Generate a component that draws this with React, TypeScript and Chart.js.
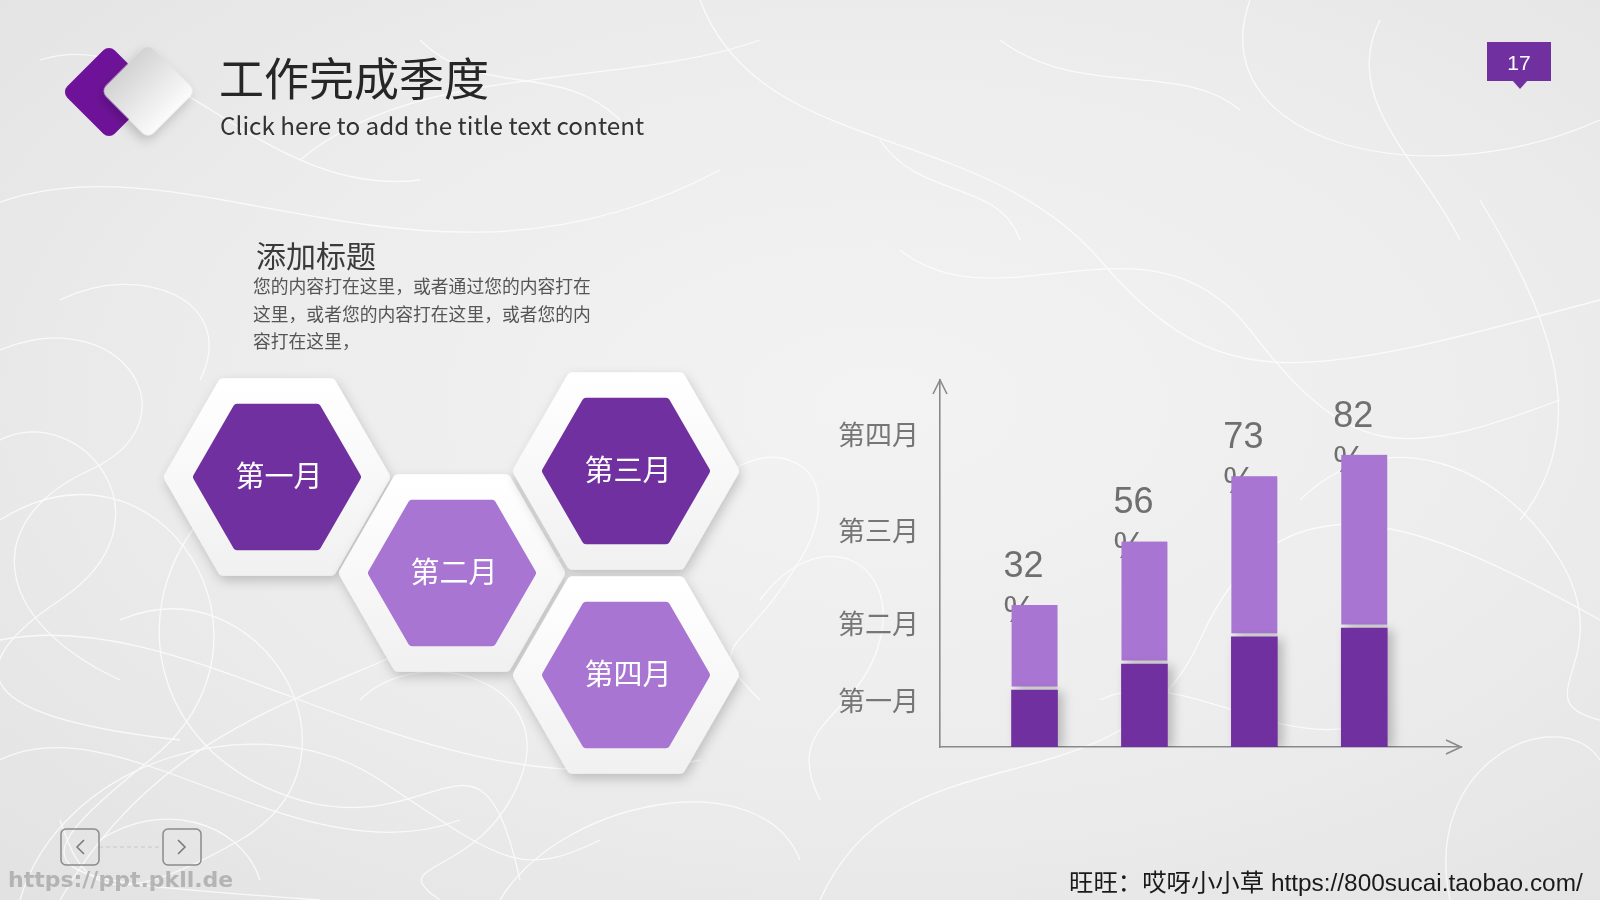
import React, { useEffect, useRef } from "react";
import { Chart, registerables } from "chart.js";

Chart.register(...registerables);

// ---- data ----
const monthLabels = ["第一月", "第二月", "第三月", "第四月"];
const barPositions = [1, 2, 3, 4];
const baseValues = [15.5, 22.6, 30.0, 32.4];
const topValues = [23.2, 33.4, 43.8, 47.2];
const valueLabels = ["32%", "56%", "73%", "82%"];
const yTickValues = [12.7, 33.7, 58.8, 85.0];
const yTickLabels = ["第一月", "第二月", "第三月", "第四月"];
const paragraphLines = [
  "您的内容打在这里，或者通过您的内容打在",
  "这里，或者您的内容打在这里，或者您的内",
  "容打在这里，",
];

const DARK = "#7030A0";
const LIGHT = "#A876D2";
const CJK = "'Noto Sans CJK SC', 'Noto Sans CJK TC', sans-serif";
const LATIN = "'Liberation Sans', Arial, 'Noto Sans CJK SC', sans-serif";

function hexPoints(cx: number, cy: number, r: number) {
  const pts: string[] = [];
  for (let k = 0; k < 6; k++) {
    const a = (Math.PI / 3) * k;
    pts.push(`${(cx + r * Math.cos(a)).toFixed(1)},${(cy + r * Math.sin(a)).toFixed(1)}`);
  }
  return pts.join(" ");
}

const hexes = [
  { cx: 277, cy: 477, dark: true, label: monthLabels[0] },
  { cx: 452, cy: 573, dark: false, label: monthLabels[1] },
  { cx: 626, cy: 471, dark: true, label: monthLabels[2] },
  { cx: 626, cy: 675, dark: false, label: monthLabels[3] },
];

const scribbles = [
  "M -20 210 C 180 120, 420 330, 720 170",
  "M 60 900 C 220 620, 520 720, 660 420",
  "M 0 520 C 160 420, 300 640, 150 760 S 40 880, 320 900",
  "M 700 0 C 760 160, 980 120, 1100 260 S 1300 380, 1600 300",
  "M 820 900 C 900 720, 1120 820, 1200 640 S 1420 520, 1600 620",
  "M 1250 0 C 1200 140, 1420 200, 1600 120",
  "M 300 160 C 420 60, 620 90, 760 40",
  "M 0 350 C 120 300, 200 420, 90 470 S -10 620, 120 680",
  "M 500 900 C 560 800, 760 760, 800 860",
  "M 1450 900 C 1420 760, 1560 700, 1600 760",
  "M 900 250 C 1000 330, 1150 200, 1250 330 S 1400 460, 1560 400",
  "M 120 620 C 260 560, 380 760, 240 840 S 80 880, 60 820",
  "M 1480 200 C 1540 300, 1600 420, 1520 520",
  "M 760 600 C 820 520, 900 560, 880 640 S 780 720, 820 800",
  "M 40 60 C 160 20, 260 200, 420 180",
  "M 1000 40 C 1080 100, 1180 60, 1240 110",
  "M 0 640 C 200 600, 420 820, 700 760",
  "M 20 900 C 60 760, 260 700, 380 780 S 520 880, 600 840",
  "M 0 760 C 120 700, 300 880, 460 820",
  "M 200 520 C 120 620, 160 760, 300 800 S 480 700, 520 880",
  "M 0 440 C 80 400, 180 520, 60 600 S 0 720, 180 740",
  "M 360 700 C 420 640, 560 680, 520 780 S 380 860, 440 900",
  "M 60 300 C 140 260, 240 300, 200 380",
  "M 700 500 C 760 420, 860 460, 800 560 S 700 640, 760 700",
  "M 1300 500 C 1380 420, 1500 460, 1560 560 S 1520 700, 1600 720",
  "M 1100 700 C 1180 660, 1280 760, 1380 720",
  "M 420 40 C 480 100, 560 60, 620 120",
  "M 1380 20 C 1340 100, 1420 160, 1460 240",
  "M 880 140 C 920 200, 1000 180, 1020 240",
  "M 100 840 C 160 800, 240 820, 260 880",
];

function BarChart() {
  const ref = useRef<HTMLCanvasElement>(null);
  useEffect(() => {
    if (!ref.current) return;
    const labelPlugin = {
      id: "pctLabels",
      beforeDatasetsDraw(chart: any) {
        const ctx = chart.ctx;
        const meta = chart.getDatasetMeta(1);
        ctx.save();
        ctx.fillStyle = "#6f6f6f";
        ctx.font = "36px 'Liberation Sans', Arial, sans-serif";
        ctx.textAlign = "left";
        ctx.textBaseline = "alphabetic";
        meta.data.forEach((bar: any, i: number) => {
          const { x, y, width } = bar.getProps(["x", "y", "width"], true);
          const left = x - width / 2 - 8;
          const txt = valueLabels[i];
          ctx.fillText(txt.replace("%", ""), left, y - 28);
          ctx.fillText("%", left, y + 17);
        });
        ctx.restore();
        ctx.save();
        ctx.shadowColor = "rgba(0,0,0,0.22)";
        ctx.shadowBlur = 10;
        ctx.shadowOffsetX = 5;
        ctx.shadowOffsetY = 2;
      },
      afterDatasetsDraw(chart: any) {
        chart.ctx.restore();
      },
      afterDraw(chart: any) {
        const { ctx, chartArea } = chart;
        ctx.save();
        ctx.strokeStyle = "#8a8a8a";
        ctx.lineWidth = 1.6;
        ctx.beginPath();
        ctx.moveTo(chartArea.left - 7, chartArea.top + 14);
        ctx.lineTo(chartArea.left, chartArea.top);
        ctx.lineTo(chartArea.left + 7, chartArea.top + 14);
        ctx.moveTo(chartArea.right - 15, chartArea.bottom - 7);
        ctx.lineTo(chartArea.right, chartArea.bottom);
        ctx.lineTo(chartArea.right - 15, chartArea.bottom + 7);
        ctx.stroke();
        ctx.restore();
      },
    };

    const chart = new Chart(ref.current, {
      type: "bar",
      data: {
        datasets: [
          {
            data: barPositions.map((x, i) => ({ x, y: baseValues[i] })),
            backgroundColor: DARK,
            borderWidth: 0,
            barThickness: 46,
          },
          {
            data: barPositions.map((x, i) => ({ x, y: topValues[i] })),
            backgroundColor: LIGHT,
            borderSkipped: false,
            borderWidth: { top: 0, left: 0, right: 0, bottom: 4 },
            borderColor: "#efedf1",
            barThickness: 46,
          },
        ],
      } as any,
      options: {
        animation: false,
        responsive: false,
        maintainAspectRatio: false,
        layout: { padding: { left: 0, top: 20, right: 39, bottom: 23 } },
        plugins: { legend: { display: false }, tooltip: { enabled: false } },
        scales: {
          x: {
            type: "linear",
            min: 0.14,
            max: 4.88,
            offset: false,
            stacked: true,
            grid: { display: false, drawTicks: false, offset: false },
            ticks: { display: false },
            border: { display: true, color: "#8a8a8a", width: 1.6 },
            afterFit: (s: any) => {
              s.height = 0;
              s.paddingLeft = 0;
              s.paddingRight = 0;
            },
          },
          y: {
            type: "linear",
            min: 0,
            max: 100,
            stacked: true,
            grid: { display: false, drawTicks: false },
            border: { display: true, color: "#8a8a8a", width: 1.6 },
            afterBuildTicks: (s: any) => {
              s.ticks = yTickValues.map((v) => ({ value: v }));
            },
            ticks: {
              padding: 21,
              color: "#767676",
              font: { family: CJK, size: 27 },
              callback: (_v: any, i: number) => yTickLabels[i],
            },
            afterFit: (s: any) => {
              s.width = 160;
              s.paddingTop = 0;
              s.paddingBottom = 0;
            },
          },
        } as any,
      },
      plugins: [labelPlugin],
    });
    return () => chart.destroy();
  }, []);
  return (
    <canvas
      ref={ref}
      width={720}
      height={410}
      style={{ position: "absolute", left: 780, top: 360, width: 720, height: 410 }}
    />
  );
}

export default function App() {
  return (
    <div
      style={{
        position: "fixed",
        left: 0,
        top: 0,
        width: 1600,
        height: 900,
        overflow: "hidden",
        background: "radial-gradient(ellipse at 55% 45%, #f3f3f3 0%, #ececec 55%, #e2e2e2 100%)",
      }}
    >
      <svg width={1600} height={900} style={{ position: "absolute", left: 0, top: 0 }}>
        <defs>
          <filter id="sh" x="-30%" y="-30%" width="160%" height="160%">
            <feDropShadow dx="2" dy="5" stdDeviation="6" floodColor="#000" floodOpacity="0.2" />
          </filter>
          <linearGradient id="outerG" x1="0" y1="0" x2="0" y2="1">
            <stop offset="0%" stopColor="#ffffff" />
            <stop offset="100%" stopColor="#f1f1f1" />
          </linearGradient>
          <linearGradient id="diaG" x1="0" y1="0" x2="1" y2="0">
            <stop offset="0%" stopColor="#d3d3d3" />
            <stop offset="100%" stopColor="#fbfbfb" />
          </linearGradient>
        </defs>

        <g fill="none" stroke="#ffffff" strokeWidth={1.3} opacity={0.75}>
          {scribbles.map((d, i) => (
            <path key={i} d={d} />
          ))}
        </g>

        {/* logo diamonds */}
        <rect x={109 - 33.5} y={92 - 33.5} width={67} height={67} rx={8} fill="#6E1399" transform="rotate(45 109 92)" />
        <rect
          x={148 - 33.5}
          y={91 - 33.5}
          width={67}
          height={67}
          rx={8}
          fill="url(#diaG)"
          filter="url(#sh)"
          transform="rotate(45 148 91)"
        />

        {/* titles */}
        <text x={219} y={96} fontFamily={CJK} fontSize={45} fill="#262626">
          工作完成季度
        </text>
        <text x={220} y={135} fontFamily={CJK} fontSize={24.3} fill="#333">
          Click here to add the title text content
        </text>

        {/* page number */}
        <rect x={1487} y={42} width={64} height={39} fill={DARK} />
        <polygon points="1512,80 1528,80 1520,89" fill={DARK} />
        <text x={1519} y={70} textAnchor="middle" fontFamily={LATIN} fontSize={21} fill="#fff">
          17
        </text>

        {/* text block */}
        <text x={256} y={267} fontFamily={CJK} fontSize={30} fill="#3a3a3a">
          添加标题
        </text>
        {paragraphLines.map((t, i) => (
          <text key={i} x={253} y={293 + i * 27.5} fontFamily={CJK} fontSize={17.8} fill="#555">
            {t}
          </text>
        ))}

        {/* hexagons */}
        {hexes.map((h, i) => (
          <g key={i}>
            <polygon
              points={hexPoints(h.cx, h.cy, 107)}
              fill="url(#outerG)"
              stroke="url(#outerG)"
              strokeWidth={12}
              strokeLinejoin="round"
              filter="url(#sh)"
            />
            <polygon
              points={hexPoints(h.cx, h.cy, 80)}
              fill={h.dark ? DARK : LIGHT}
              stroke={h.dark ? DARK : LIGHT}
              strokeWidth={8}
              strokeLinejoin="round"
            />
            <text x={h.cx + 2} y={h.cy + 10} textAnchor="middle" fontFamily={CJK} fontSize={29} fill="#fff">
              {h.label}
            </text>
          </g>
        ))}

        {/* nav buttons */}
        <line x1={99} y1={847} x2={163} y2={847} stroke="#c8c8c8" strokeWidth={1} strokeDasharray="4 3" />
        <rect x={61} y={829} width={38} height={36} rx={5} fill="none" stroke="#8a8a8a" strokeWidth={1.5} />
        <polyline points="84,840 77,847 84,854" fill="none" stroke="#777" strokeWidth={1.5} />
        <rect x={163} y={829} width={38} height={36} rx={5} fill="none" stroke="#8a8a8a" strokeWidth={1.5} />
        <polyline points="178,840 185,847 178,854" fill="none" stroke="#777" strokeWidth={1.5} />

        <text x={8} y={887} fontFamily="'DejaVu Sans', sans-serif" fontWeight="bold" fontSize={22} fill="#a0a0a0" opacity={0.7}>
          https://ppt.pkll.de
        </text>

        <text x={1069} y={891} fontFamily={LATIN} fontSize={24.4} fill="#1a1a1a">
          旺旺：哎呀小小草 https://800sucai.taobao.com/
        </text>
      </svg>
      <BarChart />
    </div>
  );
}
